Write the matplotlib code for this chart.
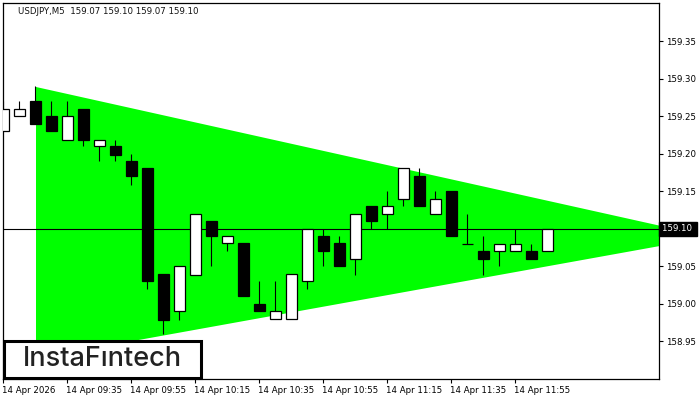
import matplotlib
matplotlib.use("Agg")
import matplotlib.pyplot as plt
from matplotlib.patches import Rectangle
import matplotlib.transforms as mtransforms

title = "USDJPY,M5  159.07 159.10 159.07 159.10"

# M5 candles, 09:15 .. 12:05
opens = [159.230, 159.250, 159.271, 159.251, 159.219, 159.260, 159.210, 159.210, 159.190,
         159.181, 159.040, 158.990, 159.039, 159.111, 159.081, 159.081, 159.000, 158.980,
         158.980, 159.030, 159.090, 159.081, 159.060, 159.130, 159.120, 159.140, 159.170,
         159.120, 159.151, 159.080, 159.070, 159.070, 159.070, 159.070, 159.070]
highs = [159.271, 159.271, 159.291, 159.271, 159.271, 159.260, 159.219, 159.219, 159.200,
         159.181, 159.040, 159.050, 159.120, 159.111, 159.090, 159.081, 159.030, 159.030,
         159.040, 159.100, 159.100, 159.090, 159.120, 159.130, 159.151, 159.181, 159.181,
         159.151, 159.151, 159.120, 159.090, 159.080, 159.100, 159.080, 159.100]
lows = [159.230, 159.250, 159.240, 159.230, 159.219, 159.210, 159.190, 159.190, 159.159,
        159.020, 158.960, 158.979, 159.039, 159.050, 159.070, 159.010, 158.990, 158.980,
        158.980, 159.020, 159.050, 159.050, 159.039, 159.100, 159.100, 159.130, 159.130,
        159.120, 159.090, 159.080, 159.039, 159.050, 159.070, 159.060, 159.070]
closes = [159.260, 159.260, 159.240, 159.230, 159.251, 159.219, 159.219, 159.199, 159.170,
          159.030, 158.979, 159.050, 159.120, 159.090, 159.090, 159.010, 158.990, 158.990,
          159.040, 159.100, 159.070, 159.050, 159.120, 159.110, 159.130, 159.181, 159.130,
          159.140, 159.090, 159.080, 159.060, 159.080, 159.080, 159.060, 159.100]

tick_pos = [0, 4, 8, 12, 16, 20, 24, 28, 32]
tick_labels = ["14 Apr 2026", "14 Apr 09:35", "14 Apr 09:55", "14 Apr 10:15", "14 Apr 10:35",
               "14 Apr 10:55", "14 Apr 11:15", "14 Apr 11:35", "14 Apr 11:55"]
price_ticks = [158.95, 159.00, 159.05, 159.10, 159.15, 159.20, 159.25, 159.30, 159.35]

# triangle pattern borders (candle index, price)
tri_x = [2, 41]
tri_upper = [159.290, 159.105]
tri_lower = [158.928, 159.078]
level = 159.10

plt.rcParams['font.family'] = ['DejaVu Sans']

fig = plt.figure(figsize=(7, 4), dpi=100)
ax = fig.add_axes([2.5 / 700, 21 / 400, 656.8 / 700, 376.3 / 400])
ax.set_xlim(-0.0625, 40.99)
ax.set_ylim(158.90, 159.4017)

ax.fill_between(tri_x, tri_lower, tri_upper, color="#00ff00", lw=0, zorder=1)
ax.axhline(level, color="black", lw=0.8, zorder=2)

w = 0.63
for i in range(len(opens)):
    o, h, l, c = opens[i], highs[i], lows[i], closes[i]
    ax.vlines(i, l, h, color="black", lw=0.8, zorder=3)
    if abs(c - o) < 0.0005:
        ax.hlines(o, i - w / 2, i + w / 2, color="black", lw=0.9, zorder=4)
        continue
    fc = "white" if c > o else "black"
    ax.add_patch(Rectangle((i - w / 2, min(o, c)), w, abs(c - o), facecolor=fc,
                           edgecolor="black", lw=0.9, zorder=4))

for s in ax.spines.values():
    s.set_linewidth(0.9)

ax.yaxis.tick_right()
ax.set_yticks(price_ticks)
# the current price tag takes the place of the 159.10 label
ax.set_yticklabels(["" if abs(p - level) < 1e-6 else f"{p:.2f}" for p in price_ticks])
ax.tick_params(axis="y", length=3, width=0.8, pad=1.5, labelsize=6.2)
ax.set_xticks(tick_pos)
ax.set_xticklabels(tick_labels, ha="left")
ax.tick_params(axis="x", length=3, width=0.8, pad=2, labelsize=6.2)
offset = mtransforms.ScaledTranslation(-1 / 100, 0, fig.dpi_scale_trans)
for lbl in ax.get_xticklabels():
    lbl.set_transform(lbl.get_transform() + offset)

# current price tag
trans = mtransforms.blended_transform_factory(ax.transAxes, ax.transData)
ax.text(1.004, level, "159.10 ", transform=trans, ha="left", va="center", fontsize=6.2,
        color="white", clip_on=False, zorder=10,
        bbox=dict(boxstyle="square,pad=0.3", facecolor="black", edgecolor="black"))

fig.text(18 / 700, 1 - 11 / 400, title, ha="left", va="center", fontsize=6.2, color="#111111")

# logo
fig.add_artist(Rectangle((3.5 / 700, 21.8 / 400), 197.5 / 700, 37.5 / 400, transform=fig.transFigure,
                         facecolor="white", edgecolor="black", lw=2.2, zorder=20))
fig.text(102 / 700, 1 - 359.5 / 400, "InstaFıntech", ha="center", va="center", fontsize=19.5,
         fontweight="medium", family=["Inter", "DejaVu Sans"], color="#222222", zorder=21)

fig.savefig("out.png", dpi=100)
